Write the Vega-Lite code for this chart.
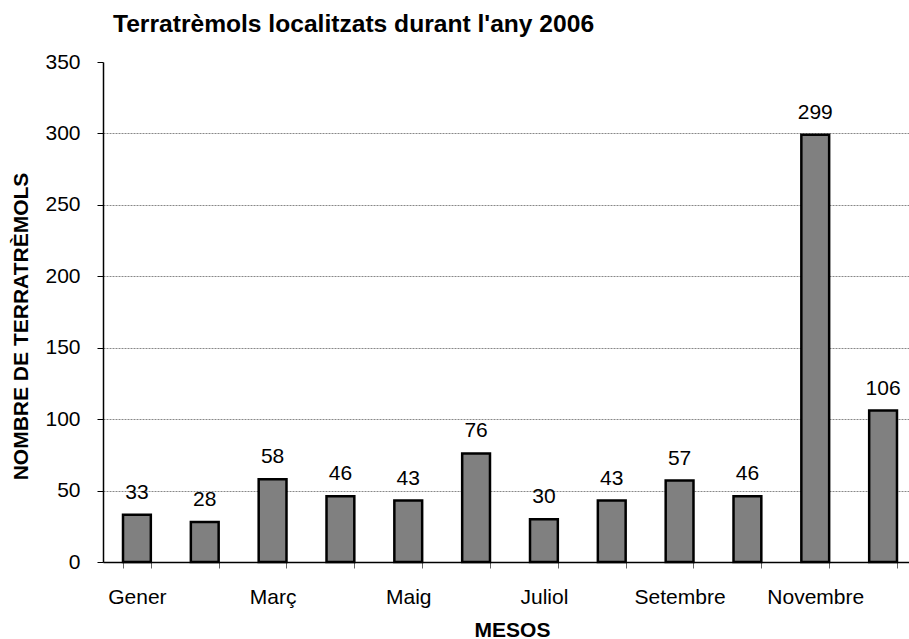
{
  "$schema": "https://vega.github.io/schema/vega-lite/v6.json",
  "autosize": {"type": "none"},
  "padding": {"left": 103, "top": 62, "right": 0, "bottom": 77},
  "width": 806,
  "height": 500,
  "background": "white",
  "config": {
    "view": {"stroke": null},
    "font": "Liberation Sans",
    "text": {"font": "Liberation Sans"}
  },
  "title": {
    "text": "Terratrèmols localitzats durant l'any 2006",
    "anchor": "start",
    "frame": "group",
    "dx": 10,
    "font": "Liberation Sans",
    "fontSize": 24.6,
    "fontWeight": "bold",
    "color": "black",
    "baseline": "alphabetic",
    "offset": -6
  },
  "data": {
    "values": [
      {"mes": "Gener", "n": 33},
      {"mes": "Febrer", "n": 28},
      {"mes": "Març", "n": 58},
      {"mes": "Abril", "n": 46},
      {"mes": "Maig", "n": 43},
      {"mes": "Juny", "n": 76},
      {"mes": "Juliol", "n": 30},
      {"mes": "Agost", "n": 43},
      {"mes": "Setembre", "n": 57},
      {"mes": "Octubre", "n": 46},
      {"mes": "Novembre", "n": 299},
      {"mes": "Desembre", "n": 106}
    ]
  },
  "encoding": {
    "x": {
      "field": "mes",
      "type": "nominal",
      "sort": null,
      "scale": {"range": [0, 814], "paddingInner": 0.59, "paddingOuter": 0.295},
      "axis": {
        "title": "MESOS",
        "titleFont": "Liberation Sans",
        "titleFontSize": 21,
        "titleFontWeight": "bold",
        "titleColor": "black",
        "titleX": 409,
        "titleY": 74,
        "titleBaseline": "alphabetic",
        "titleAlign": "center",
        "labelAngle": 0,
        "labelFont": "Liberation Sans",
        "labelFontSize": 21,
        "labelColor": "black",
        "labelPadding": 18,
        "labelOverlap": false,
        "labelBound": false,
        "labelFlush": false,
        "labelExpr": "indexof(['Gener','Març','Maig','Juliol','Setembre','Novembre'], datum.value) >= 0 ? datum.value : ''",
        "tickBand": "extent",
        "tickSize": 6,
        "tickColor": "#666666",
        "domainColor": "black",
        "domainWidth": 1.5,
        "grid": false
      }
    },
    "y": {
      "field": "n",
      "type": "quantitative",
      "scale": {"domain": [0, 350], "nice": false},
      "axis": {
        "title": "NOMBRE DE TERRATRÈMOLS",
        "titleFont": "Liberation Sans",
        "titleFontSize": 21,
        "titleFontWeight": "bold",
        "titleColor": "black",
        "titleX": -76,
        "titleY": 264,
        "titleAngle": -90,
        "titleBaseline": "alphabetic",
        "titleAlign": "center",
        "values": [0, 50, 100, 150, 200, 250, 300, 350],
        "labelFont": "Liberation Sans",
        "labelFontSize": 21,
        "labelColor": "black",
        "labelPadding": 17,
        "tickSize": 6,
        "tickColor": "black",
        "domainColor": "black",
        "domainWidth": 1.5,
        "grid": true,
        "gridColor": "#888888",
        "gridWidth": 1,
        "gridDash": [2, 1],
        "gridOpacity": {"condition": {"test": "datum.value === 350 || datum.value === 0", "value": 0}, "value": 1}
      }
    }
  },
  "layer": [
    {
      "mark": {"type": "bar", "fill": "#808080", "stroke": "black", "strokeWidth": 2.5}
    },
    {
      "mark": {"type": "text", "baseline": "alphabetic", "dy": -16, "fontSize": 21, "color": "black", "font": "Liberation Sans"},
      "encoding": {"text": {"field": "n", "type": "quantitative"}}
    }
  ]
}
